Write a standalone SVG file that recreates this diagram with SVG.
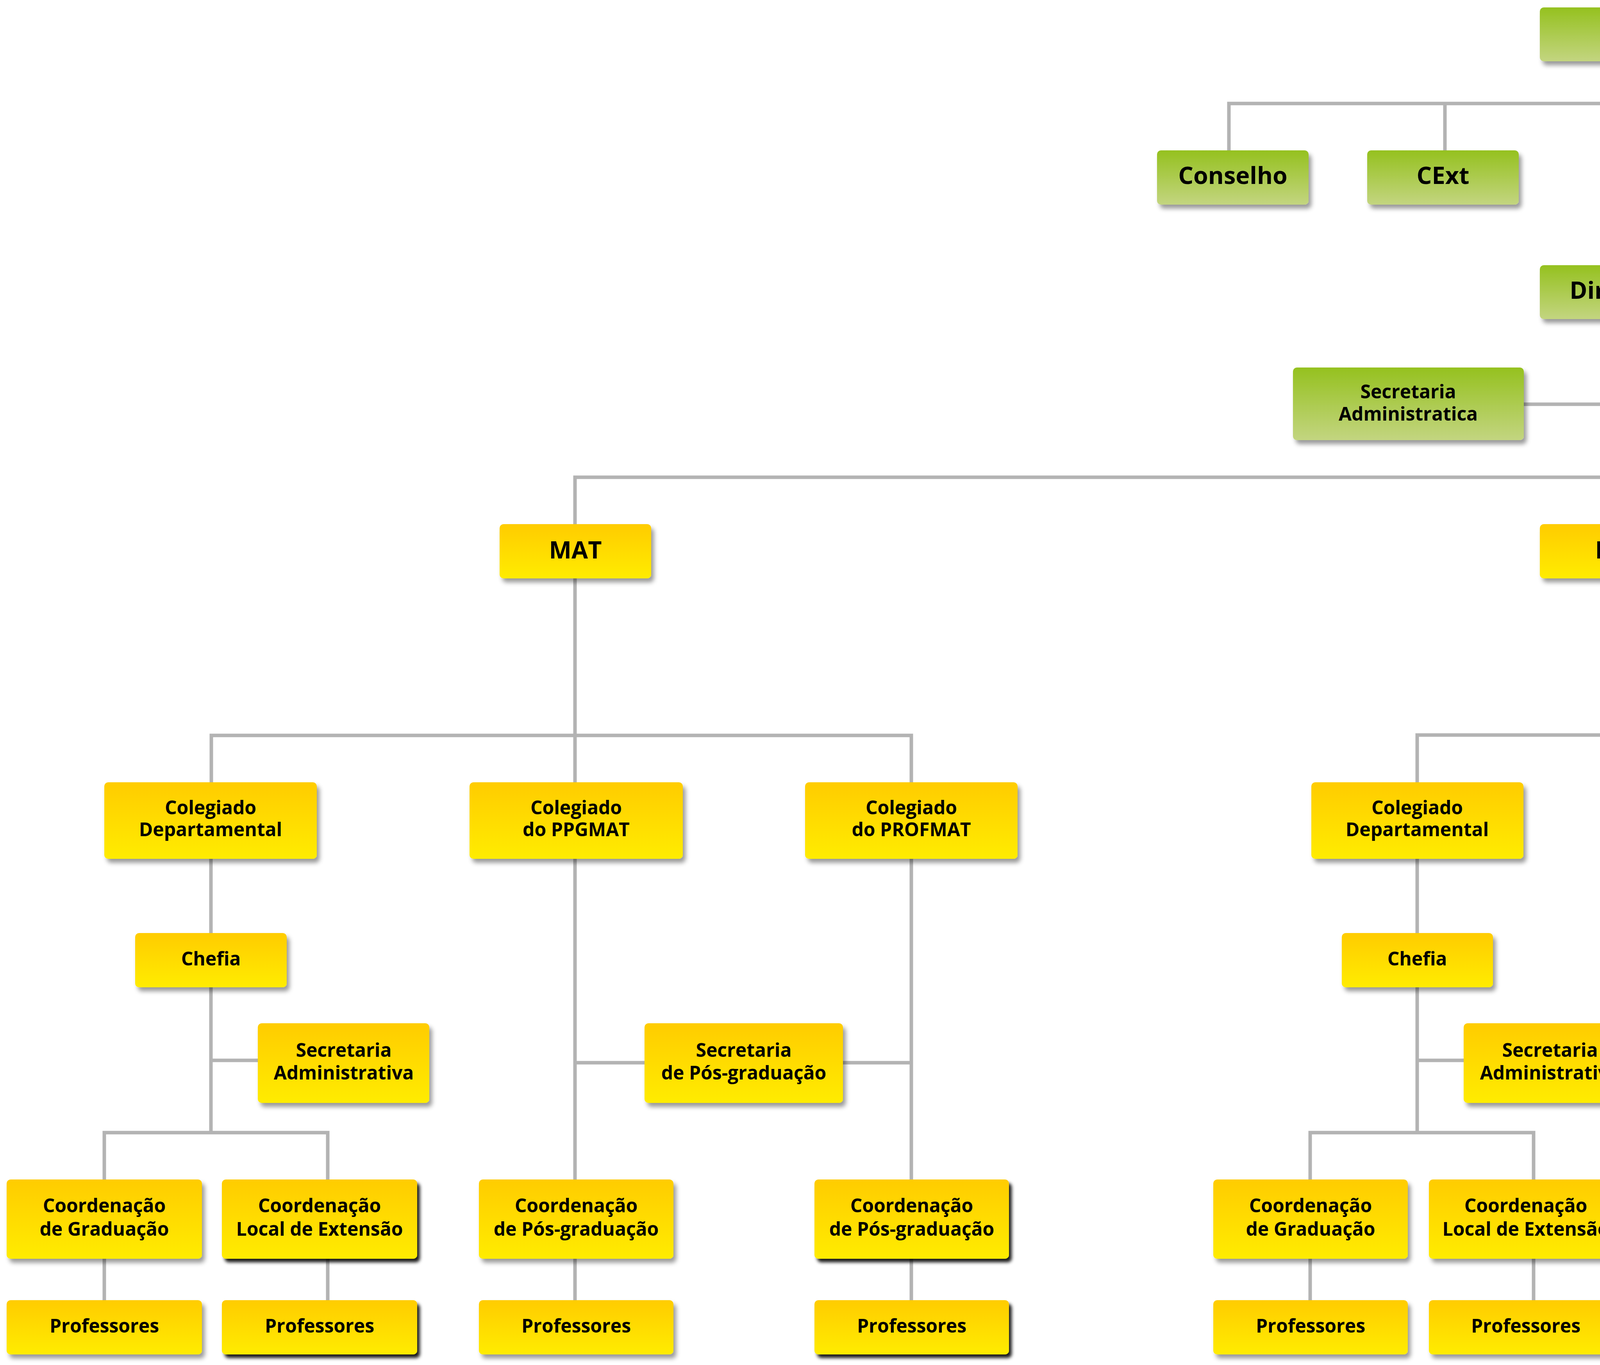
<svg xmlns="http://www.w3.org/2000/svg" width="7954" height="3495" viewBox="0 0 7954 3495">
<defs>
<linearGradient id="gGreen" x1="0" y1="0" x2="0" y2="1">
<stop offset="0" stop-color="#95c11f"/>
<stop offset="1" stop-color="#c3d580"/>
</linearGradient>
<linearGradient id="gYellow" x1="0" y1="0" x2="0" y2="1">
<stop offset="0" stop-color="#ffcc00"/>
<stop offset="1" stop-color="#ffec00"/>
</linearGradient>
<filter id="sh" x="-10%" y="-10%" width="125%" height="135%">
<feGaussianBlur in="SourceAlpha" stdDeviation="6"/>
<feOffset dx="7" dy="10" result="b"/>
<feFlood flood-color="#000" flood-opacity="0.4"/>
<feComposite in2="b" operator="in"/>
<feMerge><feMergeNode/><feMergeNode in="SourceGraphic"/></feMerge>
</filter>
<filter id="shd" x="-10%" y="-10%" width="125%" height="135%">
<feGaussianBlur in="SourceAlpha" stdDeviation="4"/>
<feOffset dx="7" dy="9" result="b"/>
<feFlood flood-color="#000" flood-opacity="0.9"/>
<feComposite in2="b" operator="in"/>
<feMerge><feMergeNode/><feMergeNode in="SourceGraphic"/></feMerge>
</filter>
</defs>
<style>
.c{stroke:#b3b3b3;stroke-width:9;fill:none;stroke-linecap:square}
.g{fill:url(#gGreen);filter:url(#sh)}
.y{fill:url(#gYellow);filter:url(#sh)}
.yd{fill:url(#gYellow);filter:url(#shd)}
text{font-family:"Open Sans","Liberation Sans",sans-serif;font-weight:700;fill:#000;text-anchor:middle}
.L{font-size:61px}
.XL{font-size:76px}
.S{font-size:48px}
</style>
<rect width="7954" height="3495" fill="#ffffff"/>
<g id="connectors">
<path class="c" d="M4135 157V1222"/>
<path class="c" d="M3146 385V265H5115V385M3699 265V385M4576 265V385"/>
<path class="c" d="M3901 1035H4381"/>
<path class="c" d="M1472 1342V1222H6793V1342"/>
<path class="c" d="M1472 1481V1883M541 2003V1883H2333V2003M1472 1883V2003"/>
<path class="c" d="M540 2198V2900M540 2715H660M267 3020V2900H839V3020M267 3223V3329M839 3223V3329"/>
<path class="c" d="M1472 2198V3020M1472 3223V3329M2333 2198V3020M2333 3223V3329M1472 2721H2333"/>
<path class="c" d="M4135 1481V1882M3628 2003V1882H4563V2003"/>
<path class="c" d="M3628 2198V2900M3628 2715H3747M3354 3020V2900H3926V3020M3354 3223V3329M3926 3223V3329"/>
<path class="c" d="M4563 2198V3020M4563 3223V3329"/>
<path class="c" d="M6793 1481V1882M5857 2003V1882H7650V2003"/>
<path class="c" d="M5857 2198V2900M5857 2715H5977M5584 3020V2900H6157V3020M5584 3223V3329M6157 3223V3329"/>
<path class="c" d="M6793 2198V3020M6793 3223V3329M7650 2198V3020M7650 3223V3329"/>
</g>
<g id="ie"><rect class="g" x="3942" y="19" width="386" height="138" rx="10"/><text class="XL" x="4135" y="111">IE</text></g>
<g id="conselho"><rect class="g" x="2962" y="385" width="388" height="139" rx="10"/><text class="L" x="3156" y="471">Conselho</text></g>
<g id="cext"><rect class="g" x="3500" y="385" width="388" height="139" rx="10"/><text class="L" x="3694" y="471">CExt</text></g>
<g id="cccpg"><rect class="g" x="4382" y="385" width="386" height="139" rx="10"/><text class="L" x="4575" y="471">CCCPG</text></g>
<g id="cccg"><rect class="g" x="4921" y="385" width="386" height="139" rx="10"/><text class="L" x="5114" y="471">CCCG</text></g>
<g id="direcao"><rect class="g" x="3942" y="679" width="386" height="138" rx="10"/><text class="L" x="4135" y="765">Direção</text></g>
<g id="sec-adm-ie"><rect class="g" x="3310" y="941" width="591" height="186" rx="10"/><text class="S"><tspan x="3605" y="1020">Secretaria</tspan><tspan x="3605" y="1077">Administratica</tspan></text></g>
<g id="coord-ext-ie"><rect class="g" x="4381" y="941" width="591" height="186" rx="10"/><text class="S"><tspan x="4676" y="1020">Coordenação</tspan><tspan x="4676" y="1077">de Extensão do IE</tspan></text></g>

<g id="mat"><rect class="y" x="1279" y="1342" width="388" height="139" rx="10"/><text class="L" x="1473" y="1430">MAT</text></g>
<g id="est"><rect class="y" x="3942" y="1342" width="386" height="139" rx="10"/><text class="L" x="4135" y="1430">EST</text></g>
<g id="cic"><rect class="y" x="6604" y="1342" width="386" height="139" rx="10"/><text class="L" x="6797" y="1430">CIC</text></g>

<g id="mat-coldep"><rect class="y" x="267" y="2003" width="544" height="196" rx="10"/><text class="S"><tspan x="539" y="2085">Colegiado</tspan><tspan x="539" y="2141">Departamental</tspan></text></g>
<g id="mat-ppgmat"><rect class="y" x="1202" y="2003" width="546" height="196" rx="10"/><text class="S"><tspan x="1475" y="2085">Colegiado</tspan><tspan x="1475" y="2141">do PPGMAT</tspan></text></g>
<g id="mat-profmat"><rect class="y" x="2061" y="2003" width="544" height="196" rx="10"/><text class="S"><tspan x="2333" y="2085">Colegiado</tspan><tspan x="2333" y="2141">do PROFMAT</tspan></text></g>
<g id="est-coldep"><rect class="y" x="3357" y="2003" width="543" height="196" rx="10"/><text class="S"><tspan x="3628" y="2085">Colegiado</tspan><tspan x="3628" y="2141">Departamental</tspan></text></g>
<g id="est-ppgest"><rect class="y" x="4292" y="2003" width="543" height="196" rx="10"/><text class="S"><tspan x="4563" y="2085">Colegiado</tspan><tspan x="4563" y="2141">do PPGEST</tspan></text></g>
<g id="cic-coldep"><rect class="y" x="5586" y="2003" width="544" height="196" rx="10"/><text class="S"><tspan x="5858" y="2085">Colegiado</tspan><tspan x="5858" y="2141">Departamental</tspan></text></g>
<g id="cic-ppginf"><rect class="y" x="6521" y="2003" width="543" height="196" rx="10"/><text class="S"><tspan x="6792" y="2085">Colegiado</tspan><tspan x="6792" y="2141">do PPGInf</tspan></text></g>
<g id="cic-ppca"><rect class="y" x="7379" y="2003" width="543" height="196" rx="10"/><text class="S"><tspan x="7650" y="2085">Colegiado</tspan><tspan x="7650" y="2141">do PPCA</tspan></text></g>

<g id="mat-chefia"><rect class="y" x="346" y="2389" width="388" height="139" rx="10"/><text class="S" x="540" y="2472">Chefia</text></g>
<g id="est-chefia"><rect class="y" x="3435" y="2389" width="387" height="139" rx="10"/><text class="S" x="3628" y="2472">Chefia</text></g>
<g id="cic-chefia"><rect class="y" x="5664" y="2389" width="386" height="139" rx="10"/><text class="S" x="5857" y="2472">Chefia</text></g>

<g id="mat-secadm"><rect class="y" x="660" y="2620" width="439" height="204" rx="10"/><text class="S"><tspan x="880" y="2706">Secretaria</tspan><tspan x="880" y="2764">Administrativa</tspan></text></g>
<g id="mat-secpos"><rect class="y" x="1650" y="2620" width="508" height="204" rx="10"/><text class="S"><tspan x="1904" y="2706">Secretaria</tspan><tspan x="1904" y="2764">de Pós-graduação</tspan></text></g>
<g id="est-secadm"><rect class="y" x="3747" y="2620" width="441" height="204" rx="10"/><text class="S"><tspan x="3968" y="2706">Secretaria</tspan><tspan x="3968" y="2764">Administrativa</tspan></text></g>
<g id="cic-secadm"><rect class="y" x="5977" y="2620" width="440" height="204" rx="10"/><text class="S"><tspan x="6197" y="2706">Secretaria</tspan><tspan x="6197" y="2764">Administrativa</tspan></text></g>

<g id="mat-cgrad"><rect class="y" x="17" y="3020" width="500" height="203" rx="10"/><text class="S"><tspan x="267" y="3104">Coordenação</tspan><tspan x="267" y="3164">de Graduação</tspan></text></g>
<g id="mat-cext"><rect class="yd" x="568" y="3020" width="500" height="203" rx="10"/><text class="S"><tspan x="818" y="3104">Coordenação</tspan><tspan x="818" y="3164">Local de Extensão</tspan></text></g>
<g id="mat-cpos1"><rect class="y" x="1226" y="3020" width="498" height="203" rx="10"/><text class="S"><tspan x="1475" y="3104">Coordenação</tspan><tspan x="1475" y="3164">de Pós-graduação</tspan></text></g>
<g id="mat-cpos2"><rect class="yd" x="2085" y="3020" width="498" height="203" rx="10"/><text class="S"><tspan x="2334" y="3104">Coordenação</tspan><tspan x="2334" y="3164">de Pós-graduação</tspan></text></g>
<g id="est-cgrad"><rect class="y" x="3106" y="3020" width="498" height="203" rx="10"/><text class="S"><tspan x="3355" y="3104">Coordenação</tspan><tspan x="3355" y="3164">de Graduação</tspan></text></g>
<g id="est-cext"><rect class="y" x="3658" y="3020" width="497" height="203" rx="10"/><text class="S"><tspan x="3906" y="3104">Coordenação</tspan><tspan x="3906" y="3164">Local de Extensão</tspan></text></g>
<g id="est-cpos"><rect class="y" x="4314" y="3020" width="498" height="203" rx="10"/><text class="S"><tspan x="4563" y="3104">Coordenação</tspan><tspan x="4563" y="3164">de Pós-graduação</tspan></text></g>
<g id="cic-cgrad"><rect class="y" x="5336" y="3020" width="497" height="203" rx="10"/><text class="S"><tspan x="5584" y="3104">Coordenação</tspan><tspan x="5584" y="3164">de Graduação</tspan></text></g>
<g id="cic-cext"><rect class="y" x="5887" y="3020" width="498" height="203" rx="10"/><text class="S"><tspan x="6136" y="3104">Coordenação</tspan><tspan x="6136" y="3164">Local de Extensão</tspan></text></g>
<g id="cic-cpos1"><rect class="y" x="6544" y="3020" width="498" height="203" rx="10"/><text class="S"><tspan x="6793" y="3104">Coordenação</tspan><tspan x="6793" y="3164">de Pós-graduação</tspan></text></g>
<g id="cic-cpos2"><rect class="y" x="7403" y="3020" width="497" height="203" rx="10"/><text class="S"><tspan x="7651" y="3104">Coordenação</tspan><tspan x="7651" y="3164">de Pós-graduação</tspan></text></g>

<g id="mat-prof1"><rect class="y" x="17" y="3329" width="500" height="139" rx="10"/><text class="S" x="267" y="3412">Professores</text></g>
<g id="mat-prof2"><rect class="yd" x="568" y="3329" width="500" height="139" rx="10"/><text class="S" x="818" y="3412">Professores</text></g>
<g id="mat-prof3"><rect class="y" x="1226" y="3329" width="498" height="139" rx="10"/><text class="S" x="1475" y="3412">Professores</text></g>
<g id="mat-prof4"><rect class="yd" x="2085" y="3329" width="498" height="139" rx="10"/><text class="S" x="2334" y="3412">Professores</text></g>
<g id="est-prof1"><rect class="y" x="3106" y="3329" width="498" height="139" rx="10"/><text class="S" x="3355" y="3412">Professores</text></g>
<g id="est-prof2"><rect class="y" x="3658" y="3329" width="497" height="139" rx="10"/><text class="S" x="3906" y="3412">Professores</text></g>
<g id="est-prof3"><rect class="y" x="4314" y="3329" width="498" height="139" rx="10"/><text class="S" x="4563" y="3412">Professores</text></g>
<g id="cic-prof1"><rect class="y" x="5336" y="3329" width="497" height="139" rx="10"/><text class="S" x="5584" y="3412">Professores</text></g>
<g id="cic-prof2"><rect class="yd" x="5887" y="3329" width="498" height="139" rx="10"/><text class="S" x="6136" y="3412">Professores</text></g>
<g id="cic-prof3"><rect class="y" x="6544" y="3329" width="498" height="139" rx="10"/><text class="S" x="6793" y="3412">Professores</text></g>
<g id="cic-prof4"><rect class="yd" x="7403" y="3329" width="497" height="139" rx="10"/><text class="S" x="7651" y="3412">Professores</text></g>
</svg>
